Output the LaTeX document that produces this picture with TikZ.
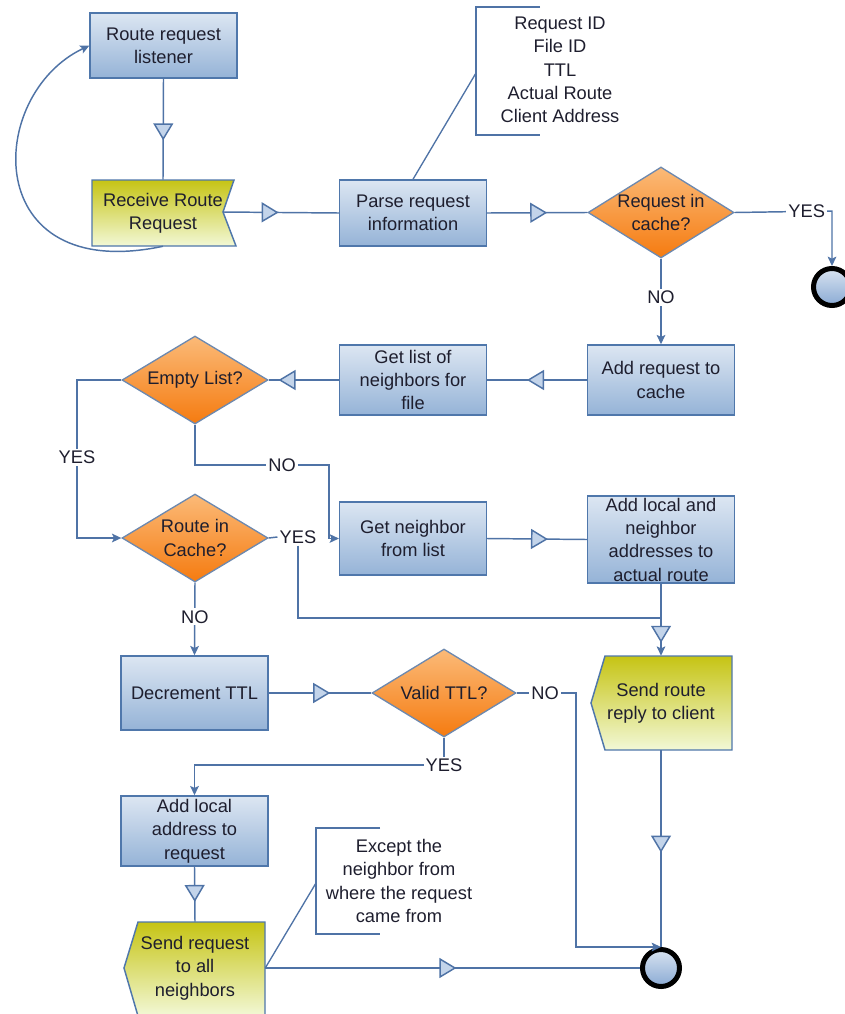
\documentclass[tikz,border=0pt]{standalone}
\usepackage{fontspec}
\setmainfont{Liberation Sans}
\usetikzlibrary{shapes.geometric,arrows.meta,decorations.markings}
\definecolor{boxtop}{HTML}{DCE6F2}
\definecolor{boxbot}{HTML}{95B3D7}
\definecolor{boxline}{HTML}{4F77AB}
\definecolor{dectop}{HTML}{FBBA78}
\definecolor{decbot}{HTML}{F57B10}
\definecolor{decline}{HTML}{6D89AF}
\definecolor{yeltop}{HTML}{C6C414}
\definecolor{yelbot}{HTML}{F2F8D6}
\definecolor{flowline}{HTML}{4F73A6}
\definecolor{tribg}{HTML}{C3D4EA}
\definecolor{txt}{HTML}{1E1E2E}
\definecolor{endtop}{HTML}{D8E3F0}
\definecolor{endbot}{HTML}{8AAAD4}
\tikzset{
  proc/.style={draw=boxline, line width=1.1pt, top color=boxtop, bottom color=boxbot,
    minimum width=110pt, align=center, inner sep=0pt, text=txt},
  dec/.style={diamond, draw=decline, line width=1pt, top color=dectop, bottom color=decbot,
    minimum width=109.5pt, minimum height=66pt, inner sep=0pt},
  dectext/.style={align=center, text=txt},
  signalbox/.style={draw=boxline, line width=1.1pt, top color=yeltop, bottom color=yelbot},
  textonly/.style={align=center, inner sep=0pt, text=txt},
  flow/.style={draw=flowline, line width=1.1pt},
  tip/.style={-{Stealth[length=7pt,width=6.5pt,inset=1.5pt]}},
  midtri/.style={postaction={decorate, decoration={markings,
    mark=at position #1 with {\arrow{Triangle[length=12.75pt,width=15pt,fill=tribg]}}}}},
  lbl/.style={fill=white, inner sep=1.5pt, text=txt},
  endpt/.style={circle, draw=black, line width=3.75pt, top color=endtop, bottom color=endbot,
    minimum size=27.75pt, inner sep=0pt},
  notetext/.style={align=center, text=txt, inner sep=0pt},
}
\begin{document}
\begin{tikzpicture}[x=0.75pt, y=-0.75pt, font=\fontsize{13.7pt}{17.5pt}\selectfont]
\clip (0,0) rectangle (845,1014);

% shaped (signal) steps drawn as outlines
\path[signalbox] (92,180) -- (234,180) -- (223,212) -- (236,246) -- (92,246) -- cycle;
\path[signalbox] (605,656) -- (732,656) -- (732,750) -- (605,750) -- (591,703) -- cycle;
\path[signalbox] (138,922) -- (265,922) -- (265,1016) -- (138,1016) -- (124,968) -- cycle;

% process boxes
\node[proc, minimum height=48.75pt] (list) at (163.5,45.5) {Route request\\listener};
\node[textonly, minimum width=106pt, minimum height=49.5pt] (recv) at (163,213) {Receive Route\\Request};
\coordinate (recvnotch) at (223,212);
\node[proc, minimum height=49.5pt] (parse) at (413,213) {Parse request\\information};
\node[proc, minimum height=52.5pt] (addreq) at (661,380) {Add request to\\cache};
\node[proc, minimum height=52.5pt] (getlist) at (413,380) {Get list of\\neighbors for\\file};
\node[proc, minimum height=54.75pt] (getn) at (413,538.5) {Get neighbor\\from list};
\node[proc, minimum height=65.25pt] (addl) at (661,539.5) {Add local and\\neighbor\\addresses to\\actual route};
\node[proc, minimum height=55.5pt] (decr) at (194.5,693) {Decrement TTL};
\node[proc, minimum height=52.5pt] (addla) at (194.5,831) {Add local\\address to\\request};
\node[textonly, minimum width=106.5pt, minimum height=70.5pt] (rep) at (661,703) {Send route\\reply to client};
\node[textonly, minimum width=105pt, minimum height=69pt] (sreq) at (195,968) {Send request\\to all\\neighbors};

% decisions
\node[dec, minimum height=68.25pt] (d1) at (661,212.5) {};
\node[dectext] at (d1) {Request in\\cache?};
\node[dec, minimum height=66pt] (d2) at (195,380) {};
\node[dectext] at (d2) {Empty List?};
\node[dec] (d3) at (195,538) {};
\node[dectext] at (d3) {Route in\\Cache?};
\node[dec, minimum width=108pt] (d4) at (444,693) {};
\node[dectext] at (d4) {Valid TTL?};

% end points
\node[endpt] (c1) at (832,287) {};
\node[endpt] (c2) at (661,968) {};

% annotations
\node[notetext] (note1) at (560,70) {\fontsize{13.7pt}{18pt}\selectfont Request ID\\File ID\\TTL\\Actual Route\\Client Address};
\coordinate (note1c) at (476,73);
\draw[flow, line width=1pt] (540,7) -- (476,7) -- (476,135) -- (540,135);
\node[notetext] (note2) at (399,881) {Except the\\neighbor from\\where the request\\came from};
\coordinate (note2c) at (316,883);
\draw[flow, line width=1pt] (380,828) -- (316,828) -- (316,934) -- (380,934);
\draw[flow, line width=1pt] (parse.north) -- (note1c);
\draw[flow, line width=1pt] (sreq.east) -- (note2c);

% connectors
\draw[flow, midtri=0.61] (list.south) -- (recv.north);
\draw[flow, tip] (recv.south) .. controls (-20,285) and (-15,95) .. (list.west);
\draw[flow, midtri=0.48] (recvnotch) -- (parse.west);
\draw[flow, midtri=0.6] (parse.east) -- (d1.west);
\draw[flow, tip] (d1.east) -- node[lbl, pos=0.74] {YES} (832,211) -- (c1.north);
\draw[flow, tip] (d1.south) -- node[lbl, pos=0.45] {NO} (addreq.north);
\draw[flow, midtri=0.6] (addreq.west) -- (getlist.east);
\draw[flow, midtri=0.86] (getlist.west) -- (d2.east);
\draw[flow, tip] (d2.west) -- (77,380) -- node[lbl, pos=0.49] {YES} (77,538) -- (d3.west);
\draw[flow, tip] (d2.south) -- (195,465) -- node[lbl, pos=0.65] {NO} (329,465) -- (329,538.5) -- (getn.west);
\node[lbl] (y3) at (298,537) {YES};
\draw[flow] (d3.east) -- (y3.west);
\coordinate (merge) at (661,618);
\draw[flow] (y3.south) -- (298,618) -- (merge);
\draw[flow, midtri=0.61] (getn.east) -- (addl.west);
\draw[flow, tip, midtri=0.82] (addl.south) -- (rep.north);
\draw[flow, midtri=0.52] (rep.south) -- (c2.north);
\draw[flow, tip] (d3.south) -- node[lbl, pos=0.47] {NO} (decr.north);
\draw[flow, midtri=0.6] (decr.east) -- (d4.west);
\draw[flow, tip] (d4.east) -- node[lbl, pos=0.48] {NO} (576,693) -- (576,947) -- (c2.north);
\draw[flow, tip] (d4.south) -- (444,765) -- node[lbl, pos=0.0] {YES} (194.5,765) -- (addla.north);
\draw[flow, midtri=0.64] (addla.south) -- (sreq.north);
\draw[flow, midtri=0.51] (sreq.east) -- (c2.west);
\end{tikzpicture}
\end{document}
